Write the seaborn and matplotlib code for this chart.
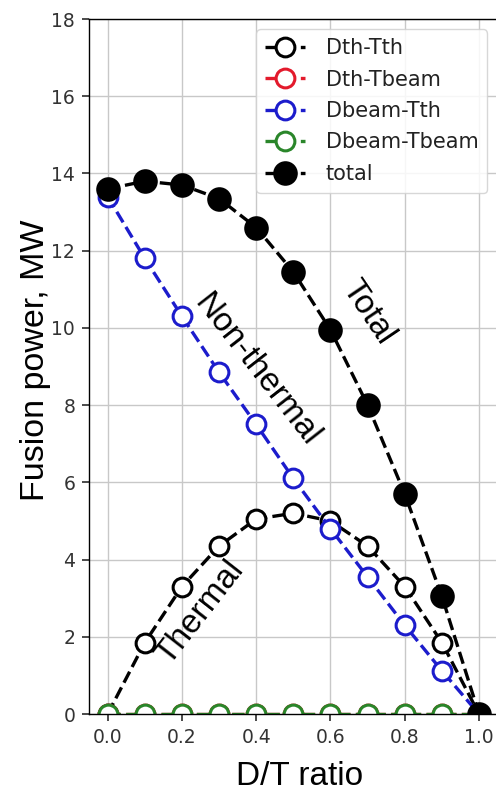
import matplotlib
matplotlib.use("Agg")
import matplotlib.pyplot as plt
import seaborn as sns
import pandas as pd

# D/T ratio scan of fusion power components (MW)
dt_ratio = [0.0, 0.1, 0.2, 0.3, 0.4, 0.5, 0.6, 0.7, 0.8, 0.9, 1.0]
dth_tth = [0.0, 1.85, 3.3, 4.35, 5.05, 5.2, 5.0, 4.35, 3.3, 1.85, 0.0]
dth_tbeam = [0.0, 0.0, 0.0, 0.0, 0.0, 0.0, 0.0, 0.0, 0.0, 0.0, 0.0]
dbeam_tth = [13.4, 11.8, 10.3, 8.85, 7.5, 6.1, 4.8, 3.55, 2.3, 1.12, 0.0]
dbeam_tbeam = [0.0, 0.0, 0.0, 0.0, 0.0, 0.0, 0.0, 0.0, 0.0, 0.0, 0.0]
total = [13.6, 13.8, 13.7, 13.35, 12.6, 11.45, 9.95, 8.0, 5.7, 3.05, 0.0]

series_names = ["Dth-Tth", "Dth-Tbeam", "Dbeam-Tth", "Dbeam-Tbeam", "total"]
series_values = [dth_tth, dth_tbeam, dbeam_tth, dbeam_tbeam, total]
series_colors = ["black", "#e31a2c", "#1c1ccc", "#2a862a", "black"]

x_ticks = [0.0, 0.2, 0.4, 0.6, 0.8, 1.0]
y_ticks = [0, 2, 4, 6, 8, 10, 12, 14, 16, 18]

sns.set_theme(style="whitegrid", rc={
    "axes.edgecolor": "black",
    "axes.linewidth": 1.0,
    "grid.color": "#c8c8c8",
    "grid.linewidth": 1.0,
    "xtick.bottom": True,
    "ytick.left": True,
    "xtick.major.size": 5,
    "ytick.major.size": 5,
    "xtick.color": "#333333",
    "ytick.color": "#333333",
})
plt.rcParams["font.family"] = ["DejaVu Sans"]

fig = plt.figure(figsize=(4.96, 7.93), dpi=100)
ax = fig.add_axes([0.1796, 0.0996, 0.8236, 0.8764])

frames = []
for name, vals in zip(series_names, series_values):
    frames.append(pd.DataFrame({"D/T": dt_ratio, "P": vals, "series": name}))
df = pd.concat(frames, ignore_index=True)

handles = []
for name, color in zip(series_names, series_colors):
    sub = df[df["series"] == name]
    filled = name == "total"
    sns.lineplot(
        data=sub, x="D/T", y="P", ax=ax,
        color=color, linestyle="--", linewidth=2.4,
        marker="o",
        markersize=15.5 if filled else 13.5,
        markerfacecolor=color if filled else "white",
        markeredgecolor=color,
        markeredgewidth=2.2,
        label=name, legend=False,
    )
    handles.append(ax.lines[-1])

ax.set_xlim(-0.05, 1.05)
ax.set_ylim(0, 18)
ax.set_xticks(x_ticks)
ax.set_yticks(y_ticks)
ax.set_xticklabels([f"{t:.1f}" for t in x_ticks])
ax.tick_params(labelsize=13.5, pad=5)

label_font = dict(family=["Liberation Sans", "DejaVu Sans"], size=24, color="black")
ax.set_xlabel("D/T ratio", **label_font)
ax.set_ylabel("Fusion power, MW", fontsize=24.5,
              family=["Liberation Sans", "DejaVu Sans"], color="black")
ax.xaxis.set_label_coords(0.516, -0.068)
ax.yaxis.set_label_coords(-0.093, 0.509)

ax.text(0.70, 10.4, "Total", rotation=-56, ha="center", va="center",
        rotation_mode="anchor", **label_font)
ax.text(0.40, 8.9, "Non-thermal", rotation=-52, ha="center", va="center",
        rotation_mode="anchor", **label_font)
ax.text(0.25, 2.62, "Thermal", rotation=52, ha="center", va="center",
        rotation_mode="anchor", **label_font)

leg = ax.legend(handles=handles, labels=series_names,
                loc="upper right", bbox_to_anchor=(0.982, 0.963),
                bbox_transform=fig.transFigure, borderaxespad=0,
                fontsize=15, handlelength=1.9, labelspacing=0.55,
                handletextpad=1.0, borderpad=0.42,
                frameon=True, fancybox=True, framealpha=0.85)
leg.get_frame().set_edgecolor("#d0d0d0")
for t in leg.get_texts():
    t.set_color("#222222")

fig.savefig("out.png", dpi=100)
